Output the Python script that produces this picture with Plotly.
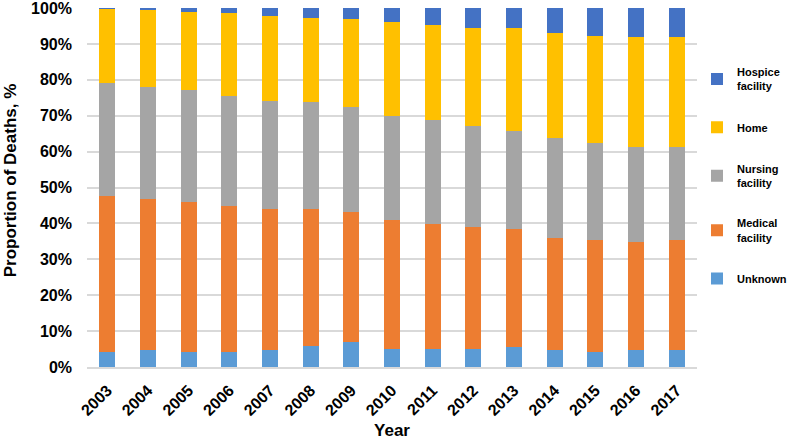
import plotly.graph_objects as go

years = [str(y) for y in range(2003, 2018)]

unknown = [4.2, 4.6, 4.2, 4.2, 4.6, 5.9, 7.1, 5.1, 5.1, 5.1, 5.5, 4.6, 4.3, 4.6, 4.6]
medical = [43.5, 42.3, 41.8, 40.7, 39.5, 38.2, 36.1, 35.9, 34.8, 34.0, 33.0, 31.4, 31.0, 30.3, 30.7]
nursing = [31.5, 31.2, 31.1, 30.6, 30.1, 29.7, 29.2, 28.9, 28.9, 28.0, 27.3, 27.8, 27.2, 26.4, 26.0]
home = [20.6, 21.5, 21.7, 23.0, 23.5, 23.4, 24.5, 26.1, 26.4, 27.3, 28.6, 29.2, 29.7, 30.6, 30.6]
hospice = [0.2, 0.4, 1.2, 1.5, 2.3, 2.8, 3.1, 4.0, 4.8, 5.6, 5.6, 7.0, 7.8, 8.1, 8.1]

y_ticks = list(range(0, 101, 10))
y_tick_labels = [f"{v}%" for v in y_ticks]

series = [
    ("Unknown", unknown, "#5B9BD5", 5),
    ("Medical<br>facility", medical, "#ED7D31", 4),
    ("Nursing<br>facility", nursing, "#A5A5A5", 3),
    ("Home", home, "#FFC000", 2),
    ("Hospice<br>facility", hospice, "#4472C4", 1),
]

FONT = "Arial, Liberation Sans, sans-serif"

fig = go.Figure()
for name, vals, color, rank in series:
    fig.add_trace(go.Bar(
        x=years, y=vals, name=name,
        marker=dict(color=color, line=dict(width=0)),
        width=0.4,
        legendgroup=name,
        legendrank=rank,
    ))

fig.update_layout(
    barmode="stack",
    width=800, height=443,
    margin=dict(l=87, r=103, t=8, b=76, autoexpand=False),
    plot_bgcolor="white",
    paper_bgcolor="white",
    font=dict(family=FONT, color="black"),
    legend=dict(
        x=1.0, y=0.86, xanchor="left", yanchor="top",
        font=dict(size=11, family=FONT, weight="bold"),
        tracegroupgap=23,
        itemwidth=30,
    ),
)

# y title as annotation so it can sit right at the left edge
fig.add_annotation(
    text="<b>Proportion of Deaths, %</b>",
    xref="paper", yref="paper", x=0, y=0.52,
    xshift=-77, xanchor="center", yanchor="middle",
    textangle=-90, showarrow=False,
    font=dict(size=17, family=FONT, color="black"),
)

fig.update_yaxes(
    range=[0, 100],
    tickmode="array",
    tickvals=y_ticks,
    ticktext=y_tick_labels,
    automargin=False,
    ticklabeloverflow="allow",
    ticklabelstandoff=14,
    showgrid=True, gridcolor="#D9D9D9", gridwidth=1.5,
    zeroline=False,
    showline=False,
    tickfont=dict(size=16, family=FONT, weight="bold"),
)

fig.update_xaxes(
    type="category",
    tickangle=-45,
    automargin=False,
    ticks="outside", ticklen=6, tickcolor="white",
    showline=True, linecolor="#D9D9D9", linewidth=1.5,
    tickfont=dict(size=16, family=FONT, weight="bold"),
    title=dict(text="Year",
               font=dict(size=17, family=FONT, weight="bold"),
               standoff=6),
)

fig.write_html("out.html", config={"displayModeBar": False},
               post_script="document.body.style.margin='0';")
